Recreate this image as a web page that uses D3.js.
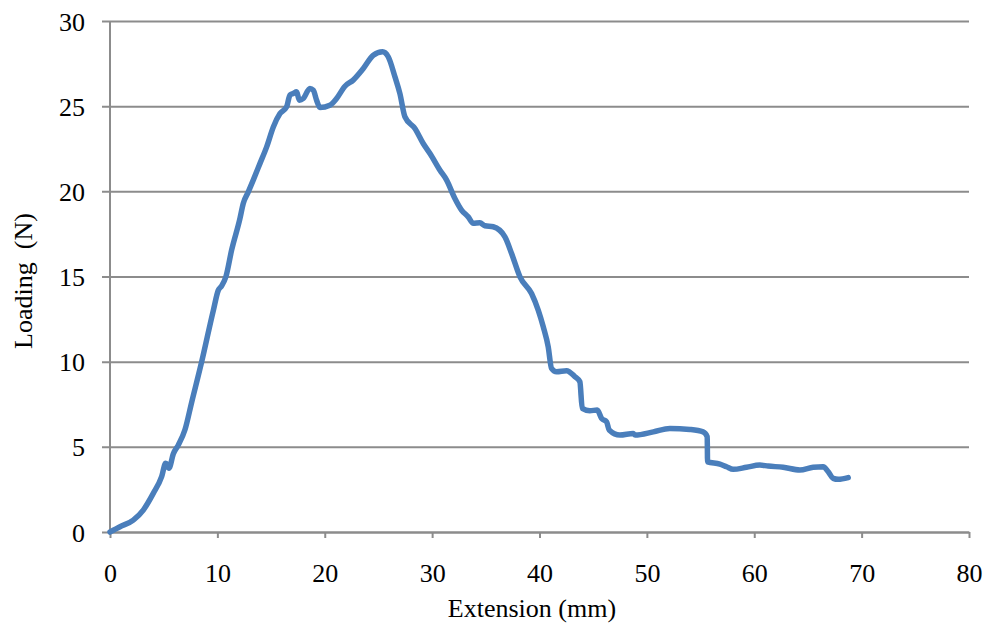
<!DOCTYPE html>
<html>
<head>
<meta charset="utf-8">
<script src="https://cdn.jsdelivr.net/npm/d3@7"></script>
<style>
  html, body { margin: 0; padding: 0; background: #fff; }
  svg { display: block; }
  text { font-family: "Liberation Serif", "Times New Roman", serif; fill: #000; }
</style>
</head>
<body>
<svg id="chart" width="987" height="626"></svg>
<script>
// ---- data ----
const extension = [0, 0.93, 2.17, 3.1, 4.03, 4.81, 5.18, 5.35, 5.49, 5.9, 6.36, 6.98, 7.6, 8.54, 9.62,
  10.09, 10.4, 10.8, 11.33, 12.1, 12.41, 12.88, 13.34, 13.97, 14.59, 15.21, 15.83, 16.45, 16.76, 17.07,
  17.38, 17.63, 18.0, 18.62, 18.93, 19.24, 19.55, 20.48, 21.1, 21.88, 22.65, 23.59, 24.52, 25.39, 25.91,
  26.54, 27.0, 27.47, 28.4, 29.17, 29.8, 30.73, 31.35, 32.12, 32.74, 33.36, 33.83, 34.45, 34.92, 35.69,
  36.78, 37.4, 38.18, 39.26, 39.88, 40.35, 40.81, 41.12, 41.59, 42.52, 43.3, 43.76, 43.98, 44.69, 45.38,
  45.78, 46.25, 46.49, 47.49, 48.73, 48.9, 50.6, 52.14, 54.0, 55.24, 55.62, 55.65, 56.8, 57.42, 58.04,
  59.28, 60.52, 61.3, 62.69, 64.25, 65.49, 66.42, 66.89, 67.35, 67.82, 68.75];
const loading = [0, 0.31, 0.70, 1.29, 2.27, 3.25, 4.03, 3.95, 3.74, 4.6, 5.1, 6.0, 7.6, 10.0, 13.0,
  14.2, 14.45, 15.0, 16.56, 18.4, 19.29, 19.97, 20.66, 21.64, 22.61, 23.78, 24.57, 24.96, 25.65, 25.74,
  25.84, 25.35, 25.45, 26.04, 25.94, 25.35, 24.92, 25.06, 25.45, 26.17, 26.53, 27.21, 27.99, 28.19, 27.9,
  26.72, 25.74, 24.37, 23.69, 22.81, 22.22, 21.24, 20.66, 19.58, 18.9, 18.5, 18.12, 18.15, 17.98, 17.92,
  17.33, 16.35, 14.98, 14.0, 13.03, 12.05, 10.88, 9.61, 9.41, 9.47, 9.12, 8.82, 7.26, 7.12, 7.16,
  6.67, 6.47, 5.99, 5.69, 5.79, 5.69, 5.88, 6.08, 6.02, 5.88, 5.59, 4.12, 3.99, 3.83, 3.68,
  3.8, 3.93, 3.87, 3.8, 3.64, 3.8, 3.83, 3.54, 3.15, 3.09, 3.19];
const xTicks = [0, 10, 20, 30, 40, 50, 60, 70, 80];
const yTicks = [0, 5, 10, 15, 20, 25, 30];
const xTitle = "Extension (mm)";
const yTitle = "Loading  (N)";

// ---- layout ----
const svg = d3.select("#chart");
const mLeft = 110, mRight = 969, mTop = 21, mBottom = 532;
const x = d3.scaleLinear().domain([0, 80]).range([mLeft, mRight]);
const y = d3.scaleLinear().domain([0, 30]).range([mBottom, mTop]);
const gridColor = "#8c8c8c";

// horizontal gridlines + y ticks
const yAxis = d3.axisLeft(y).tickValues(yTicks).tickSize(8).tickFormat(d3.format("d"));
const gy = svg.append("g").attr("transform", `translate(${mLeft},0)`).call(yAxis);
gy.select(".domain").remove();
gy.selectAll(".tick line").attr("stroke", gridColor).attr("stroke-width", 2)
  .attr("x1", -8).attr("x2", mRight - mLeft);
gy.selectAll(".tick text").attr("x", -25).attr("dy", "0.35em")
  .style("font-size", "26px").style("font-family", "'Liberation Serif', serif").attr("fill", "#000");

// y axis line
svg.append("line").attr("x1", mLeft).attr("x2", mLeft).attr("y1", mTop).attr("y2", mBottom)
  .attr("stroke", gridColor).attr("stroke-width", 2);

// x axis
const xAxis = d3.axisBottom(x).tickValues(xTicks).tickSize(6).tickSizeOuter(0).tickFormat(d3.format("d"));
const gx = svg.append("g").attr("transform", `translate(0,${mBottom})`).call(xAxis);
gx.select(".domain").attr("stroke", gridColor).attr("stroke-width", 2);
gx.selectAll(".tick line").attr("stroke", gridColor).attr("stroke-width", 2);
gx.selectAll(".tick text").attr("y", 41).attr("dy", "0.35em")
  .style("font-size", "26px").style("font-family", "'Liberation Serif', serif").attr("fill", "#000");

// data line
const pts = extension.map((e, i) => [e, loading[i]]);
svg.append("path").datum(pts)
  .attr("fill", "none").attr("stroke", "#4a7ebb").attr("stroke-width", 5.5)
  .attr("stroke-linejoin", "round").attr("stroke-linecap", "round")
  .attr("d", d3.line().x(d => x(d[0])).y(d => y(d[1])).curve(d3.curveMonotoneX));

// titles
svg.append("text").attr("x", 532).attr("y", 617).attr("text-anchor", "middle")
  .style("font-size", "26px").text(xTitle);
svg.append("text").attr("transform", "translate(32,281) rotate(-90)").attr("text-anchor", "middle")
  .style("font-size", "26px").style("white-space", "pre").text(yTitle);
</script>
</body>
</html>
